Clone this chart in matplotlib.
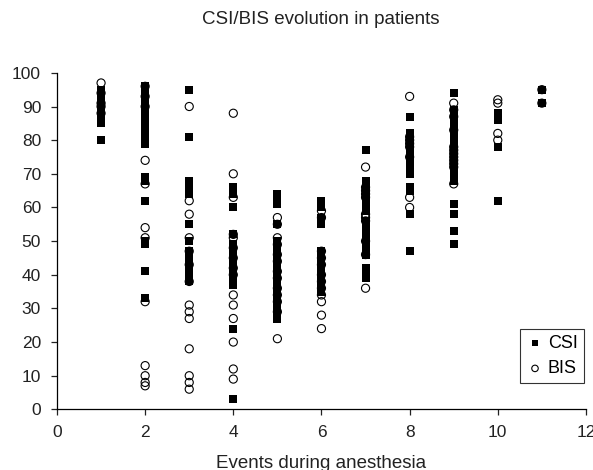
import matplotlib
matplotlib.use("Agg")
import matplotlib.pyplot as plt

plt.rcParams["font.family"] = ["Liberation Sans", "DejaVu Sans"]

# CSI / BIS readings grouped by event index during anesthesia
events = [1, 2, 3, 4, 5, 6, 7, 8, 9, 10, 11]

csi = {
    1: [95, 93, 91, 90, 89, 88, 87, 86, 85, 80],
    2: [96, 95, 94, 93, 92, 91, 90, 89, 88, 87, 85, 83, 82, 81, 80, 79,
        69, 68, 62, 50, 49, 41, 33],
    3: [95, 81, 68, 67, 66, 65, 64, 55, 50, 47, 46, 45, 44, 43, 42, 41,
        40, 39, 38],
    4: [66, 65, 64, 60, 52, 49, 48, 47, 46, 45, 44, 43, 42, 41, 40, 38,
        37, 24, 3],
    5: [64, 63, 62, 61, 55, 50, 49, 48, 47, 46, 45, 44, 43, 42, 41, 40,
        39, 38, 36, 35, 33, 31, 30, 29, 27],
    6: [62, 61, 60, 57, 56, 55, 47, 46, 45, 44, 43, 42, 41, 40, 39, 38,
        37, 36, 35],
    7: [77, 68, 67, 66, 64, 62, 61, 60, 59, 56, 55, 54, 53, 52, 51, 50,
        49, 48, 47, 46, 42, 41, 40, 39],
    8: [87, 82, 81, 80, 79, 78, 77, 76, 75, 74, 73, 72, 71, 70, 66, 65,
        58, 47],
    9: [94, 89, 88, 87, 86, 85, 84, 83, 82, 81, 80, 79, 78, 76, 74, 72,
        70, 69, 68, 61, 58, 53, 49],
    10: [88, 87, 86, 78, 62],
    11: [95, 91],
}

bis = {
    1: [97, 94, 91, 90, 88],
    2: [96, 93, 90, 74, 67, 54, 51, 32, 13, 10, 8, 7],
    3: [90, 62, 58, 51, 47, 43, 38, 31, 29, 27, 18, 10, 8, 6],
    4: [88, 70, 63, 52, 51, 48, 45, 42, 40, 34, 31, 27, 20, 12, 9],
    5: [57, 55, 51, 49, 46, 44, 41, 39, 36, 34, 32, 29, 21],
    6: [59, 57, 47, 45, 43, 40, 38, 36, 34, 32, 28, 24],
    7: [72, 66, 65, 64, 63, 58, 57, 56, 50, 46, 36],
    8: [93, 81, 80, 79, 78, 75, 63, 60],
    9: [91, 89, 87, 83, 78, 77, 76, 75, 74, 73, 72, 67],
    10: [92, 91, 82, 80],
    11: [95, 91],
}

x_ticks = [0, 2, 4, 6, 8, 10, 12]
y_ticks = list(range(0, 101, 10))


def flatten(series):
    xs, ys = [], []
    for ev in events:
        for v in series.get(ev, []):
            xs.append(ev)
            ys.append(v)
    return xs, ys


fig = plt.figure(figsize=(5.93, 4.70), dpi=100)
ax = fig.add_axes([0.0961, 0.129, 0.892, 0.716])

cx, cy = flatten(csi)
bx, by = flatten(bis)
ax.scatter(cx, cy, marker="s", s=26, c="black", linewidths=0, label="CSI", zorder=3)
ax.scatter(bx, by, marker="o", s=34, facecolors="none", edgecolors="black",
           linewidths=0.8, label="BIS", zorder=4)

ax.set_xlim(0, 12)
ax.set_ylim(0, 100)
ax.set_xticks(x_ticks)
ax.set_yticks(y_ticks)
ax.spines["top"].set_visible(False)
ax.spines["right"].set_visible(False)
for sp in ("left", "bottom"):
    ax.spines[sp].set_linewidth(0.9)
ax.tick_params(axis="both", direction="out", length=4.5, width=0.9,
               labelsize=12.5, colors="#222222")
ax.tick_params(axis="x", pad=7)
ax.tick_params(axis="y", pad=7)

leg = ax.legend(loc="lower right", bbox_to_anchor=(0.996, 0.077),
                fontsize=13, frameon=True, fancybox=False,
                handletextpad=0.2, borderpad=0.35, handlelength=1.0,
                labelspacing=0.45, borderaxespad=0, markerscale=0.8)
leg.get_frame().set_edgecolor("black")
leg.get_frame().set_linewidth(0.8)

fig.text(321 / 593, 1 - 20 / 470, "CSI/BIS evolution in patients",
         ha="center", va="center", fontsize=13.5, color="#222222")
fig.text(321 / 593, 1 - 463 / 470, "Events during anesthesia",
         ha="center", va="center", fontsize=13.5, color="#222222")

fig.savefig("out.png", dpi=100)
